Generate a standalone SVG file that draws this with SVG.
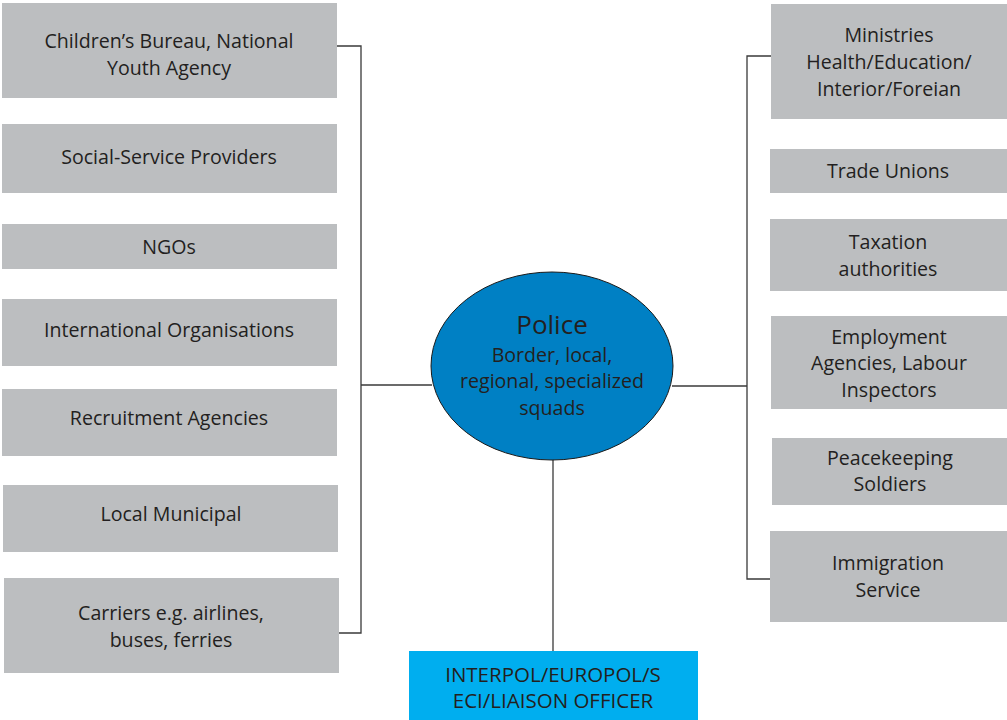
<svg xmlns="http://www.w3.org/2000/svg" width="1007" height="720" viewBox="0 0 1007 720">
<style>
.box{fill:#BCBEC0}
.t{font-family:"Open Sans","Noto Sans",sans-serif;font-size:19.6px;fill:#231F20;text-anchor:middle}
.c{fill:none;stroke:#3a3a3a;stroke-width:1.3}
</style>
<rect width="1007" height="720" fill="#fff"/>
<g id="connectors">
<polyline class="c" points="337,46 361,46 361,633 339,633"/>
<line class="c" x1="361" y1="385" x2="432" y2="385"/>
<polyline class="c" points="771,56 747,56 747,579 770,579"/>
<line class="c" x1="672" y1="386" x2="747" y2="386"/>
<line class="c" x1="553" y1="459" x2="553" y2="651"/>
</g>
<g id="n-children"><rect class="box" x="2" y="3" width="335" height="95"/><text class="t" x="169" y="48">Children’s Bureau, National</text><text class="t" x="169" y="75">Youth Agency</text></g>
<g id="n-social"><rect class="box" x="2" y="124" width="335" height="69"/><text class="t" x="169" y="164">Social-Service Providers</text></g>
<g id="n-ngos"><rect class="box" x="2" y="224" width="335" height="45"/><text class="t" x="169" y="254">NGOs</text></g>
<g id="n-intl"><rect class="box" x="2" y="299" width="335" height="67"/><text class="t" x="169" y="337">International Organisations</text></g>
<g id="n-recruit"><rect class="box" x="2" y="389" width="335" height="67"/><text class="t" x="169" y="425">Recruitment Agencies</text></g>
<g id="n-local"><rect class="box" x="3" y="485" width="335" height="67"/><text class="t" x="171" y="521">Local Municipal</text></g>
<g id="n-carriers"><rect class="box" x="4" y="578" width="335" height="95"/><text class="t" x="171" y="620">Carriers e.g. airlines,</text><text class="t" x="171" y="647">buses, ferries</text></g>
<g id="n-police"><ellipse cx="552" cy="366" rx="121" ry="94" fill="#0080C4" stroke="#1a1a1a" stroke-width="1"/><text class="t" x="552" y="334" style="font-size:26px">Police</text><text class="t" x="552" y="362">Border, local,</text><text class="t" x="552" y="388">regional, specialized</text><text class="t" x="552" y="415">squads</text></g>
<g id="n-interpol"><rect x="409" y="651" width="289" height="69" fill="#00AEEF"/><text class="t" x="553" y="682" style="font-size:20.5px">INTERPOL/EUROPOL/S</text><text class="t" x="553" y="708" style="font-size:20.5px">ECI/LIAISON OFFICER</text></g>
<g id="n-ministries"><rect class="box" x="771" y="4" width="236" height="115"/><text class="t" x="889" y="42">Ministries</text><text class="t" x="889" y="69">Health/Education/</text><text class="t" x="889" y="96">Interior/Foreian</text></g>
<g id="n-trade"><rect class="box" x="770" y="149" width="237" height="44"/><text class="t" x="888" y="178">Trade Unions</text></g>
<g id="n-tax"><rect class="box" x="770" y="219" width="237" height="72"/><text class="t" x="888" y="249">Taxation</text><text class="t" x="888" y="276">authorities</text></g>
<g id="n-employ"><rect class="box" x="771" y="316" width="236" height="93"/><text class="t" x="889" y="344">Employment</text><text class="t" x="889" y="370">Agencies, Labour</text><text class="t" x="889" y="397">Inspectors</text></g>
<g id="n-peace"><rect class="box" x="772" y="438" width="235" height="67"/><text class="t" x="890" y="465">Peacekeeping</text><text class="t" x="890" y="491">Soldiers</text></g>
<g id="n-immig"><rect class="box" x="770" y="531" width="237" height="91"/><text class="t" x="888" y="570">Immigration</text><text class="t" x="888" y="597">Service</text></g>
</svg>
